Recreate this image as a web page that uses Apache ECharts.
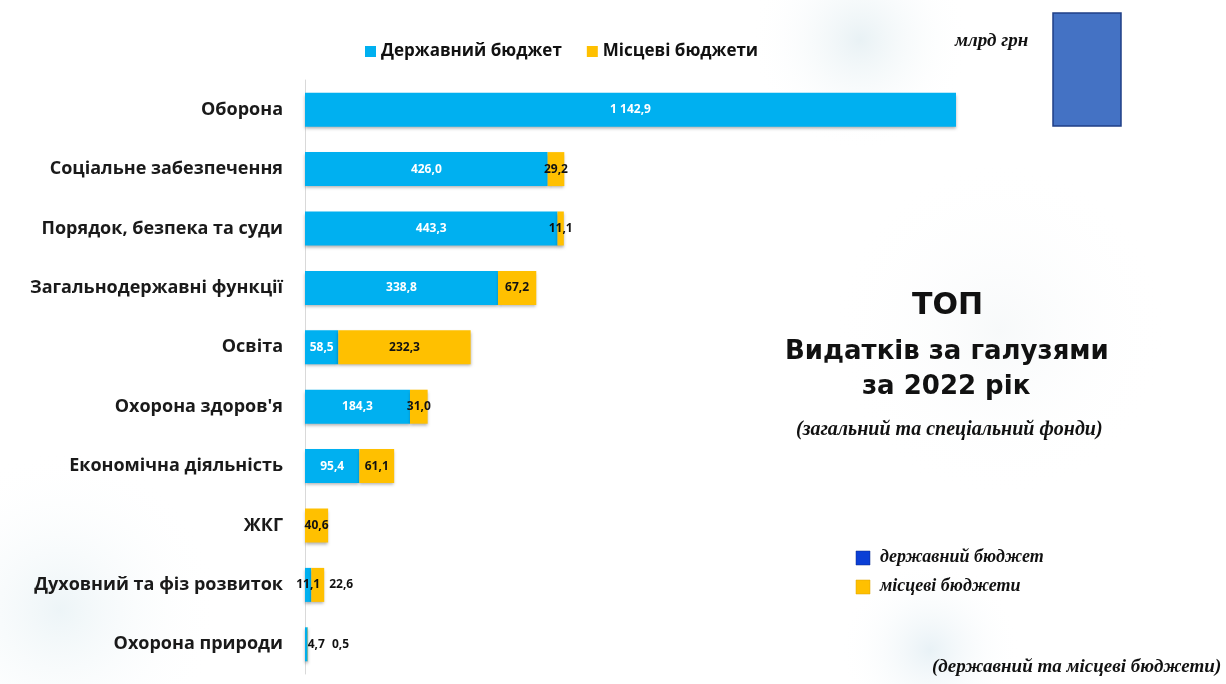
<!DOCTYPE html>
<html>
<head>
<meta charset="utf-8">
<script src="https://cdn.jsdelivr.net/npm/echarts@6/dist/echarts.min.js"></script>
<style>
    html, body { margin: 0; padding: 0; background: #fff; }
    #chart { width: 1226px; height: 684px; }
</style>
</head>
<body>
<div id="chart"></div>
<script>
// categories, top to bottom
const categories = [
    'Оборона',
    'Соціальне забезпечення',
    'Порядок, безпека та суди',
    'Загальнодержавні функції',
    'Освіта',
    "Охорона здоров'я",
    'Економічна діяльність',
    'ЖКГ',
    'Духовний та фіз розвиток',
    'Охорона природи'
];
// млрд грн
const stateBudget = [1142.9, 426.0, 443.3, 338.8, 58.5, 184.3, 95.4, null, 11.1, 4.7];
const localBudgets = [null, 29.2, 11.1, 67.2, 232.3, 31.0, 61.1, 40.6, 22.6, 0.5];

const seriesNames = ['Державний бюджет', 'Місцеві бюджети'];

// number -> "1 142,9"
const fmt = (v) => {
    const parts = v.toFixed(1).split('.');
    parts[0] = parts[0].replace(/\B(?=(\d{3})+(?!\d))/g, ' ');
    return parts.join(',');
};

const chart = echarts.init(document.getElementById('chart'));

const barShadow = {
    shadowColor: 'rgba(0,0,0,0.3)',
    shadowBlur: 3,
    shadowOffsetY: 2
};

// tiny segments whose labels sit beside the bar
const stateOutside = [9];
const localOutside = [8, 9];

const serif = (size) => 'italic bold ' + size + 'px "Liberation Serif"';

const smudge = (cx, cy, r, color) => ({
    type: 'circle', silent: true, z: -10,
    shape: { cx: cx, cy: cy, r: r },
    style: {
        fill: new echarts.graphic.RadialGradient(0.5, 0.5, 0.5, [
            { offset: 0, color: color },
            { offset: 1, color: 'rgba(255,255,255,0)' }
        ])
    }
});

let option = {
    backgroundColor: '#fff',
    animation: false,
    legend: {
        top: 38,
        left: 360,
        itemWidth: 11,
        itemHeight: 11,
        itemGap: 25,
        icon: 'rect',
        textStyle: {
            fontFamily: 'Open Sans',
            fontWeight: 'bold',
            fontSize: 17,
            color: '#111'
        },
        data: seriesNames
    },
    grid: {
        left: 305,
        top: 80,
        width: 651,
        height: 594
    },
    xAxis: {
        type: 'value',
        min: 0,
        max: 1142.9,
        show: false
    },
    yAxis: {
        type: 'category',
        inverse: true,
        data: categories,
        axisLine: { show: true, lineStyle: { color: '#d9d9d9', width: 1 } },
        axisTick: { show: false },
        axisLabel: {
            margin: 22,
            fontFamily: 'Open Sans',
            fontWeight: 'bold',
            fontSize: 18,
            color: '#1a1a1a'
        }
    },
    series: [
        {
            name: seriesNames[0],
            type: 'bar',
            stack: 'total',
            barWidth: 34,
            itemStyle: Object.assign({ color: '#00b0f0' }, barShadow),
            label: {
                show: true,
                position: 'inside',
                color: '#fff',
                fontFamily: 'Open Sans',
                fontWeight: 'bold',
                fontSize: 12,
                formatter: (p) => fmt(p.value)
            },
            data: stateBudget.map((v, i) => stateOutside.includes(i)
                ? { value: v, label: { position: 'right', distance: 0, color: '#111' } }
                : { value: v, label: v < 20 ? { color: '#111' } : {} })
        },
        {
            name: seriesNames[1],
            type: 'bar',
            stack: 'total',
            barWidth: 34,
            itemStyle: Object.assign({ color: '#ffc000' }, barShadow),
            label: {
                show: true,
                position: 'inside',
                color: '#111',
                fontFamily: 'Open Sans',
                fontWeight: 'bold',
                fontSize: 12,
                formatter: (p) => fmt(p.value)
            },
            data: localBudgets.map((v, i) => localOutside.includes(i)
                ? { value: v, label: { position: 'right', distance: i === 9 ? 24 : 5 } }
                : v)
        }
    ],
    graphic: [
        // soft background smudges
        smudge(860, 40, 110, 'rgba(205,225,232,0.45)'),
        smudge(60, 610, 160, 'rgba(215,232,238,0.45)'),
        smudge(1000, 330, 170, 'rgba(238,242,244,0.45)'),
        smudge(930, 650, 90, 'rgba(205,225,235,0.45)'),
        // unit + blue block top right
        {
            type: 'text', left: 955, top: 32,
            style: { text: 'млрд грн', font: serif(19), fill: '#111' }
        },
        {
            type: 'rect',
            shape: { x: 1053, y: 13, width: 68, height: 113 },
            style: { fill: '#4472c4', stroke: '#1f3f86', lineWidth: 1.5 }
        },
        // title block
        {
            type: 'text', left: 912, top: 291,
            style: { text: 'ТОП', font: 'bold 30px "DejaVu Sans"', fill: '#111' }
        },
        {
            type: 'text', left: 785, top: 339,
            style: { text: 'Видатків за галузями', font: 'bold 26px "DejaVu Sans"', fill: '#111' }
        },
        {
            type: 'text', left: 862, top: 374,
            style: { text: 'за 2022 рік', font: 'bold 26px "DejaVu Sans"', fill: '#111' }
        },
        {
            type: 'text', left: 796, top: 420,
            style: { text: '(загальний та спеціальний фонди)', font: serif(20), fill: '#111' }
        },
        // bottom right key
        {
            type: 'rect',
            shape: { x: 856, y: 551, width: 14, height: 14 },
            style: { fill: '#0b3fd6', stroke: '#0a2a8a', lineWidth: 0.5 }
        },
        {
            type: 'text', left: 880, top: 548,
            style: { text: 'державний бюджет', font: serif(18), fill: '#111' }
        },
        {
            type: 'rect',
            shape: { x: 856, y: 580, width: 14, height: 14 },
            style: { fill: '#ffc000', stroke: '#d9a200', lineWidth: 0.5 }
        },
        {
            type: 'text', left: 880, top: 577,
            style: { text: 'місцеві бюджети', font: serif(18), fill: '#111' }
        },
        {
            type: 'text', left: 932, top: 658,
            style: { text: '(державний та місцеві бюджети)', font: serif(19), fill: '#111' }
        }
    ]
};

chart.setOption(option);
</script>
</body>
</html>
